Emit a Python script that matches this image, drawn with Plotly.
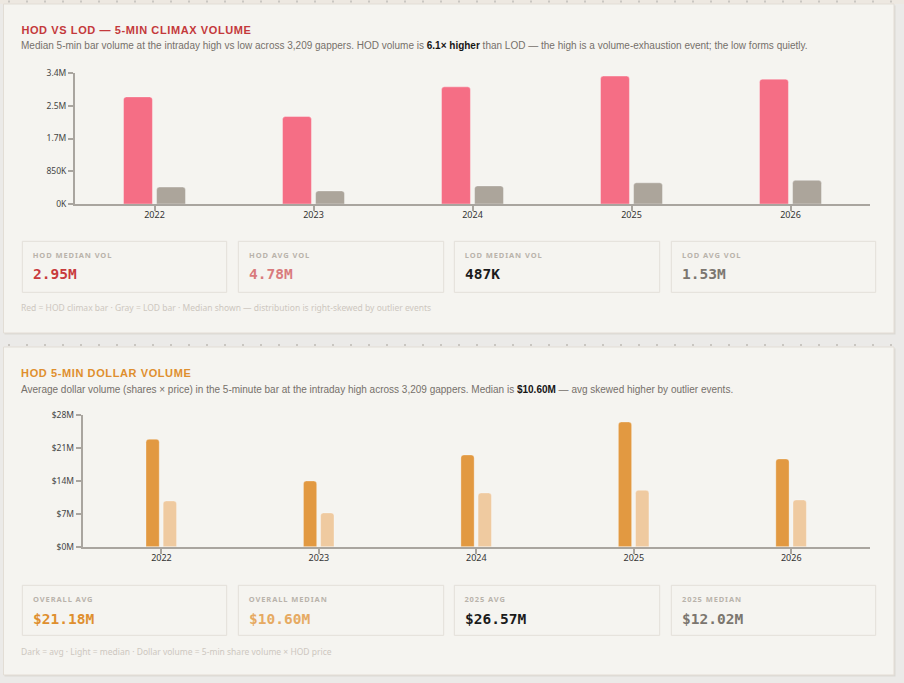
import plotly.graph_objects as go

W, H = 904, 683

# ---------------- data ----------------
years = ["2022", "2023", "2024", "2025", "2026"]
hod_volume = [2.78e6, 2.27e6, 3.04e6, 3.32e6, 3.24e6]
lod_volume = [0.44e6, 0.34e6, 0.47e6, 0.55e6, 0.615e6]
vol_tickvals = [0, 850e3, 1.7e6, 2.55e6, 3.4e6]
vol_ticktext = ["0K", "850K", "1.7M", "2.5M", "3.4M"]

dollar_avg = [22.9e6, 14.0e6, 19.55e6, 26.57e6, 18.7e6]
dollar_median = [9.74e6, 7.2e6, 11.45e6, 12.02e6, 9.96e6]
dollar_tickvals = [0, 7e6, 14e6, 21e6, 28e6]
dollar_ticktext = ["$0M", "$7M", "$14M", "$21M", "$28M"]

stat_labels_1 = ["HOD MEDIAN VOL", "HOD AVG VOL", "LOD MEDIAN VOL", "LOD AVG VOL"]
stat_values_1 = ["2.95M", "4.78M", "487K", "1.53M"]
stat_colors_1 = ["#c83a3c", "#d97b7d", "#1b1b1b", "#7b766f"]

stat_labels_2 = ["OVERALL AVG", "OVERALL MEDIAN", "2025 AVG", "2025 MEDIAN"]
stat_values_2 = ["$21.18M", "$10.60M", "$26.57M", "$12.02M"]
stat_colors_2 = ["#df8f2e", "#e6aa62", "#1b1b1b", "#7b766f"]

title_1 = "HOD VS LOD — 5-MIN CLIMAX VOLUME"
subtitle_1 = ("Median 5-min bar volume at the intraday high vs low across 3,209 gappers. HOD volume is "
              "<b><span style='color:#151515'>6.1× higher</span></b> than LOD — the high is a "
              "volume-exhaustion event; the low forms quietly.")
foot_1 = "Red = HOD climax bar · Gray = LOD bar · Median shown — distribution is right-skewed by outlier events"

title_2 = "HOD 5-MIN DOLLAR VOLUME"
subtitle_2 = ("Average dollar volume (shares × price) in the 5-minute bar at the intraday high across "
              "3,209 gappers. Median is <b><span style='color:#151515'>$10.60M</span></b> — avg skewed "
              "higher by outlier events.")
foot_2 = "Dark = avg · Light = median · Dollar volume = 5-min share volume × HOD price"

# ---------------- helpers ----------------
def px(x):
    return x / W

def py(y):
    return 1 - y / H

shapes = []
annotations = []
spacing = {}

def rect(x0, y0, x1, y1, fill, line=None, lw=0):
    shapes.append(dict(type="rect", xref="paper", yref="paper",
                       x0=px(x0), x1=px(x1), y0=py(y1), y1=py(y0),
                       fillcolor=fill, line=dict(color=line or fill, width=lw),
                       layer="below"))

def text(x, y, s, size, color, family, letter=0.0, nchars=0):
    if letter:
        spacing[len(annotations)] = letter
        x += nchars * letter / 2.0
    annotations.append(dict(xref="paper", yref="paper", x=px(x - 1), y=py(y), text=s,
                            showarrow=False, xanchor="left", yanchor="middle", borderpad=0,
                            borderwidth=0,
                            font=dict(size=size, color=color, family=family)))

# top strip + cards
rect(0, 0, W, 4, "#ede8e1")
for (top, bot) in [(4, 333), (347, 675)]:
    rect(4.5, top + 1.5, 895.5, bot + 1.5, "#dcd9d4")
    rect(3.5, top, 894, bot, "#f5f4f0", "#e2ddd5", 1)

# ruler dots
for yy in [1.5, 345]:
    for k in range(50):
        xx = 9 + 18 * k
        if xx > 900:
            break
        rect(xx - 1, yy - 1, xx + 1, yy + 1, "#c9c6c1")

SANS_T = "Liberation Sans, Arial, sans-serif"
SANS = "Noto Sans, sans-serif"
MONO = "DejaVu Sans Mono, monospace"

box_x = [(22.3, 226.7), (238.3, 443.7), (454.3, 659.7), (671.3, 875.7)]

def card_text(title, title_color, subtitle, y_title, y_sub, labels, values, colors,
              box_top, box_bot, y_label, y_value, foot, y_foot):
    text(22, y_title, "<b>" + title + "</b>", 11, title_color, SANS_T, 0.6, len(title))
    text(22, y_sub, subtitle, 10, "#75706a", SANS_T)
    for (x0, x1), lab, val, col in zip(box_x, labels, values, colors):
        rect(x0, box_top, x1, box_bot, "rgba(0,0,0,0)", "#e3dfd9", 1)
        text(x0 + 11.4, y_label, "<b>" + lab + "</b>", 7.5, "#b9b3ab", SANS, 0.9, len(lab))
        text(x0 + 11.4, y_value, "<b>" + val + "</b>", 14.5, col, MONO)
    text(22, y_foot, foot, 8.5, "#cdc7bf", SANS)

card_text(title_1, "#c4393b", subtitle_1, 30, 46, stat_labels_1, stat_values_1, stat_colors_1,
          241.3, 292.3, 255, 274, foot_1, 307)
card_text(title_2, "#df8f2e", subtitle_2, 373, 389, stat_labels_2, stat_values_2, stat_colors_2,
          585.3, 635.3, 599, 618.5, foot_2, 651)

# ---------------- traces ----------------
fig = go.Figure()
fig.add_trace(go.Bar(x=years, y=hod_volume, xaxis="x", yaxis="y", width=0.182, offset=-0.195,
                     marker=dict(color="#f56e85", line=dict(color="rgba(255,255,255,0.35)", width=1)),
                     name="HOD"))
fig.add_trace(go.Bar(x=years, y=lod_volume, xaxis="x", yaxis="y", width=0.182, offset=0.013,
                     marker=dict(color="#aca59b", line=dict(color="rgba(255,255,255,0.35)", width=1)),
                     name="LOD"))
fig.add_trace(go.Bar(x=years, y=dollar_avg, xaxis="x2", yaxis="y2", width=0.084, offset=-0.098,
                     marker=dict(color="#e29941", line=dict(color="rgba(255,255,255,0.3)", width=1)),
                     name="Avg"))
fig.add_trace(go.Bar(x=years, y=dollar_median, xaxis="x2", yaxis="y2", width=0.085, offset=0.011,
                     marker=dict(color="#efcaa0", line=dict(color="rgba(255,255,255,0.3)", width=1)),
                     name="Median"))

AX = "#a9a59f"
TICKF = dict(size=8.5, color="#444444", family=SANS)
common_x = dict(type="category", range=[-0.5, 4.5], showline=True, linecolor=AX, linewidth=2,
                ticks="outside", ticklen=5, tickwidth=1.5, tickcolor=AX, showgrid=False,
                zeroline=False, tickfont=dict(size=9, color="#333333", family=SANS), fixedrange=True,
                automargin=False, ticklabelstandoff=-4)
common_y = dict(showline=True, linecolor=AX, linewidth=2, ticks="outside", ticklen=5, tickwidth=1.5,
                tickcolor=AX, showgrid=False, zeroline=False, tickfont=TICKF, fixedrange=True,
                automargin=False)

fig.update_layout(
    template="none",
    width=W, height=H, margin=dict(l=0, r=0, t=0, b=0, pad=0, autoexpand=False),
    paper_bgcolor="#ebeae8", plot_bgcolor="rgba(0,0,0,0)",
    showlegend=False, barmode="overlay", barcornerradius=3,
    xaxis=dict(common_x, domain=[px(75), px(870)], anchor="y"),
    yaxis=dict(common_y, domain=[py(204), py(73)], anchor="x", range=[0, 3.4e6],
               tickvals=vol_tickvals, ticktext=vol_ticktext),
    xaxis2=dict(common_x, domain=[px(82.7), px(870)], anchor="y2"),
    yaxis2=dict(common_y, domain=[py(546.7), py(415.3)], anchor="x2", range=[0, 28e6],
                tickvals=dollar_tickvals, ticktext=dollar_ticktext),
    shapes=shapes, annotations=annotations,
)

css = " ".join('.annotation[data-index="%d"] text{letter-spacing:%.2fpx;}' % (i, v)
               for i, v in spacing.items())
post = "var s=document.createElement('style');s.innerHTML='%s';document.head.appendChild(s);" % css

fig.write_html("out.html", post_script=post)
